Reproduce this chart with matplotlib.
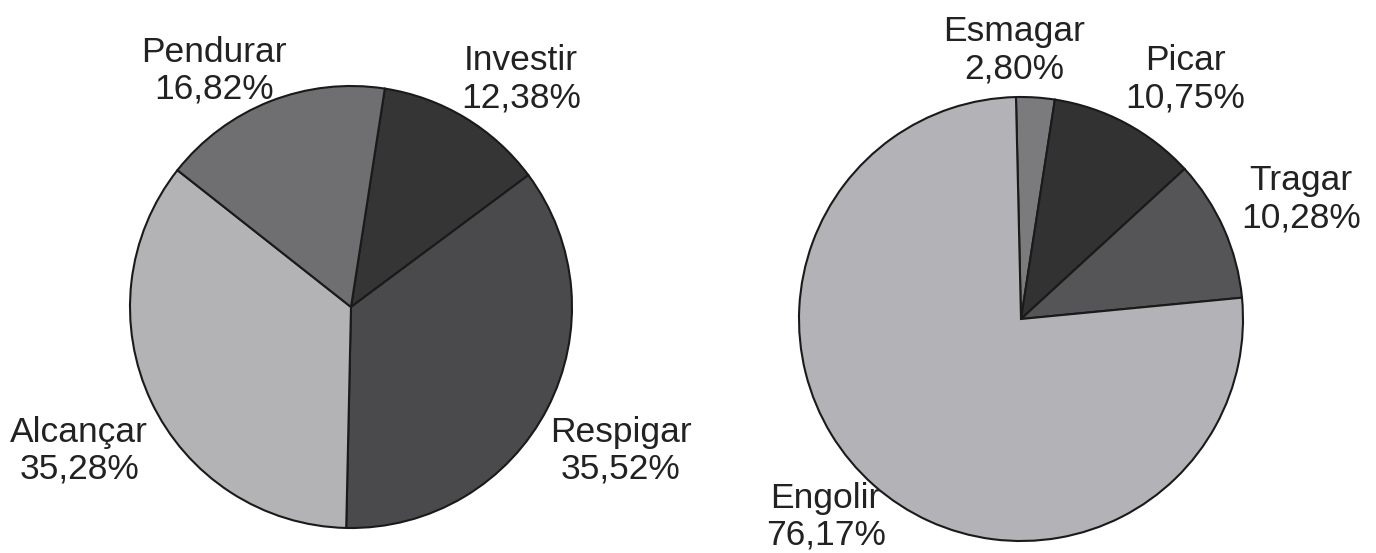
import matplotlib.pyplot as plt
import numpy as np

plt.rcParams["font.family"] = ["Liberation Sans", "DejaVu Sans"]

# left pie (clockwise from top)
left_labels = ["Investir", "Respigar", "Alcançar", "Pendurar"]
left_values = [12.38, 35.52, 35.28, 16.82]
left_pct = ["12,38%", "35,52%", "35,28%", "16,82%"]
left_colors = ["#353535", "#4a4a4c", "#b3b3b6", "#6f6f71"]

# right pie (clockwise from top)
right_labels = ["Esmagar", "Picar", "Tragar", "Engolir"]
right_values = [2.80, 10.75, 10.28, 76.17]
right_pct = ["2,80%", "10,75%", "10,28%", "76,17%"]
right_colors = ["#7b7b7d", "#323232", "#555557", "#b3b3b7"]

# label offsets relative to pie center, in units of radius
left_offsets = [(0.77, 1.03), (1.22, -0.65), (-1.23, -0.65), (-0.62, 1.07)]
right_offsets = [(-0.03, 1.21), (0.74, 1.08), (1.26, 0.54), (-0.88, -0.89)]

W, H = 1376, 553
fig = plt.figure(figsize=(W / 100, H / 100), dpi=100)
ax = fig.add_axes([0, 0, 1, 1])


def draw_pie(values, colors, labels, pct, offsets, center, radius, start):
    ax.pie(values, colors=colors, center=center, radius=radius,
           startangle=start, counterclock=False,
           wedgeprops=dict(edgecolor="#1a1a1a", linewidth=1.5))
    for lab, p, (dx, dy) in zip(labels, pct, offsets):
        ax.text(center[0] + dx * radius, center[1] + dy * radius,
                lab + "\n" + p, ha="center", va="center",
                fontsize=25.5, color="#222222", linespacing=1.15)


draw_pie(left_values, left_colors, left_labels, left_pct, left_offsets,
         (351, H - 307), 221, 81.2)
draw_pie(right_values, right_colors, right_labels, right_pct, right_offsets,
         (1021, H - 319), 222, 91.3)

ax.set_xlim(0, W)
ax.set_ylim(0, H)
ax.set_aspect("equal")
ax.axis("off")

fig.savefig("out.png", dpi=100)
